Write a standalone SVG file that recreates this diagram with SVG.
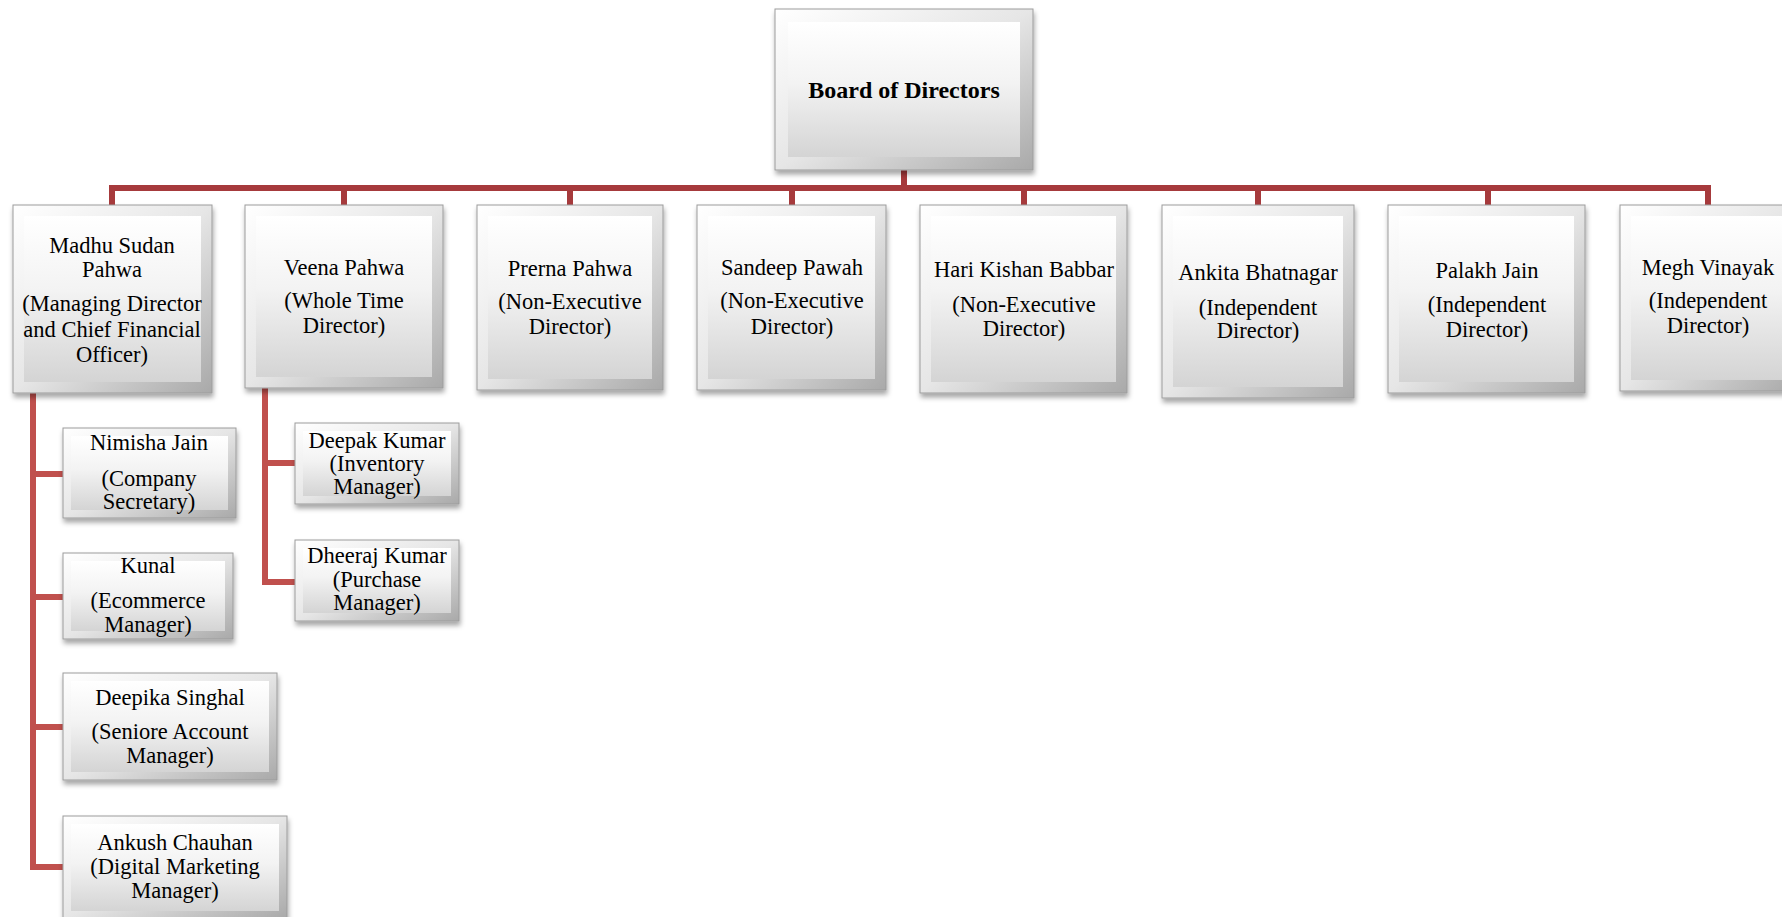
<svg xmlns="http://www.w3.org/2000/svg" width="1782" height="917" viewBox="0 0 1782 917">
<defs>
<linearGradient id="bev" x1="0" y1="0" x2="1" y2="1">
<stop offset="0" stop-color="#ffffff"/>
<stop offset="0.5" stop-color="#e6e6e6"/>
<stop offset="1" stop-color="#a9a9a9"/>
</linearGradient>
<linearGradient id="face" x1="0" y1="0" x2="0" y2="1">
<stop offset="0" stop-color="#ffffff"/>
<stop offset="0.45" stop-color="#f3f3f3"/>
<stop offset="1" stop-color="#d4d4d4"/>
</linearGradient>
<filter id="sh" x="-10%" y="-10%" width="125%" height="130%">
<feDropShadow dx="1" dy="4" stdDeviation="2.5" flood-color="#000" flood-opacity="0.35"/>
</filter>
<style>
.box{fill:url(#bev);stroke:#9c9c9c;stroke-width:1;filter:url(#sh)}
.face{fill:url(#face);stroke:none}
.t{font-family:"Liberation Serif","Times New Roman",serif;font-size:22.5px;fill:#000;text-anchor:middle}
.b{font-weight:bold;font-size:24px}
.c1{fill:none;stroke:#a63a3c;stroke-width:6}
.c2{fill:none;stroke:#c0504d;stroke-width:6}
</style>
</defs>
<rect width="1782" height="917" fill="#ffffff"/>

<g id="connectors">
<path class="c1" d="M904,170 V188 M112,206 V188 H1708 V206 M344,188 V206 M570,188 V206 M792,188 V206 M1024,188 V206 M1258,188 V206 M1488,188 V206"/>
<path class="c2" d="M33,393 V867 H64 M33,474 H64 M33,597 H64 M33,727 H64"/>
<path class="c2" d="M265,388 V582 H296 M265,463 H296"/>
</g>

<g id="board">
<rect class="box" x="775" y="9" width="258" height="161"/>
<rect class="face" x="788" y="22" width="232" height="135"/>
<text class="t b" x="904" y="98">Board of Directors</text>
</g>

<g id="madhu">
<rect class="box" x="13" y="205" width="199" height="188"/>
<rect class="face" x="24" y="216" width="177" height="166"/>
<text class="t" x="112" y="253">Madhu Sudan</text>
<text class="t" x="112" y="277">Pahwa</text>
<text class="t" x="112" y="311">(Managing Director</text>
<text class="t" x="112" y="337">and Chief Financial</text>
<text class="t" x="112" y="362">Officer)</text>
</g>

<g id="veena">
<rect class="box" x="245" y="205" width="198" height="183"/>
<rect class="face" x="256" y="216" width="176" height="161"/>
<text class="t" x="344" y="275">Veena Pahwa</text>
<text class="t" x="344" y="308">(Whole Time</text>
<text class="t" x="344" y="333">Director)</text>
</g>

<g id="prerna">
<rect class="box" x="477" y="205" width="186" height="185"/>
<rect class="face" x="488" y="216" width="164" height="163"/>
<text class="t" x="570" y="276">Prerna Pahwa</text>
<text class="t" x="570" y="309">(Non-Executive</text>
<text class="t" x="570" y="334">Director)</text>
</g>

<g id="sandeep">
<rect class="box" x="697" y="205" width="189" height="185"/>
<rect class="face" x="708" y="216" width="167" height="163"/>
<text class="t" x="792" y="275">Sandeep Pawah</text>
<text class="t" x="792" y="308">(Non-Executive</text>
<text class="t" x="792" y="334">Director)</text>
</g>

<g id="hari">
<rect class="box" x="920" y="205" width="207" height="188"/>
<rect class="face" x="931" y="216" width="185" height="166"/>
<text class="t" x="1024" y="277">Hari Kishan Babbar</text>
<text class="t" x="1024" y="312">(Non-Executive</text>
<text class="t" x="1024" y="336">Director)</text>
</g>

<g id="ankita">
<rect class="box" x="1162" y="205" width="192" height="193"/>
<rect class="face" x="1173" y="216" width="170" height="171"/>
<text class="t" x="1258" y="280">Ankita Bhatnagar</text>
<text class="t" x="1258" y="315">(Independent</text>
<text class="t" x="1258" y="338">Director)</text>
</g>

<g id="palakh">
<rect class="box" x="1388" y="205" width="197" height="188"/>
<rect class="face" x="1399" y="216" width="175" height="166"/>
<text class="t" x="1487" y="278">Palakh Jain</text>
<text class="t" x="1487" y="312">(Independent</text>
<text class="t" x="1487" y="337">Director)</text>
</g>

<g id="megh">
<rect class="box" x="1620" y="205" width="176" height="186"/>
<rect class="face" x="1631" y="216" width="154" height="164"/>
<text class="t" x="1708" y="275">Megh Vinayak</text>
<text class="t" x="1708" y="308">(Independent</text>
<text class="t" x="1708" y="333">Director)</text>
</g>

<g id="nimisha">
<rect class="box" x="63" y="428" width="173" height="90"/>
<rect class="face" x="71" y="436" width="157" height="74"/>
<text class="t" x="149" y="450">Nimisha Jain</text>
<text class="t" x="149" y="486">(Company</text>
<text class="t" x="149" y="509">Secretary)</text>
</g>

<g id="kunal">
<rect class="box" x="63" y="553" width="170" height="86"/>
<rect class="face" x="71" y="561" width="154" height="70"/>
<text class="t" x="148" y="573">Kunal</text>
<text class="t" x="148" y="608">(Ecommerce</text>
<text class="t" x="148" y="632">Manager)</text>
</g>

<g id="deepika">
<rect class="box" x="63" y="673" width="214" height="107"/>
<rect class="face" x="71" y="681" width="198" height="91"/>
<text class="t" x="170" y="705">Deepika Singhal</text>
<text class="t" x="170" y="739">(Seniore Account</text>
<text class="t" x="170" y="763">Manager)</text>
</g>

<g id="ankush">
<rect class="box" x="63" y="816" width="224" height="103"/>
<rect class="face" x="71" y="824" width="208" height="87"/>
<text class="t" x="175" y="850">Ankush Chauhan</text>
<text class="t" x="175" y="874">(Digital Marketing</text>
<text class="t" x="175" y="898">Manager)</text>
</g>

<g id="deepak">
<rect class="box" x="295" y="423" width="164" height="81"/>
<rect class="face" x="303" y="431" width="148" height="65"/>
<text class="t" x="377" y="448">Deepak Kumar</text>
<text class="t" x="377" y="471">(Inventory</text>
<text class="t" x="377" y="494">Manager)</text>
</g>

<g id="dheeraj">
<rect class="box" x="295" y="540" width="164" height="81"/>
<rect class="face" x="303" y="548" width="148" height="65"/>
<text class="t" x="377" y="563">Dheeraj Kumar</text>
<text class="t" x="377" y="587">(Purchase</text>
<text class="t" x="377" y="610">Manager)</text>
</g>
</svg>
